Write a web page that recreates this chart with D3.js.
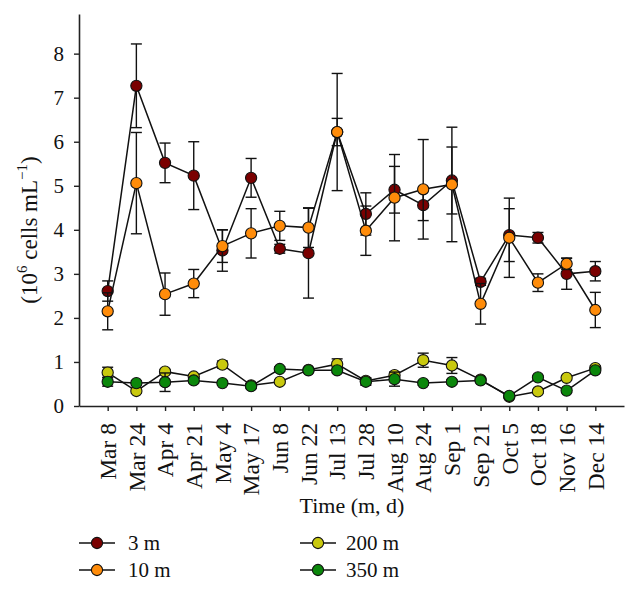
<!DOCTYPE html>
<html>
<head>
<meta charset="utf-8">
<script src="https://cdn.jsdelivr.net/npm/d3@7"></script>
<style>
  html, body { margin: 0; padding: 0; background: #fff; }
  svg { display: block; }
  svg text { font-family: "Liberation Serif", "Times New Roman", serif; }
</style>
</head>
<body>
<svg id="chart" width="638" height="589"></svg>
<script>
const dates = ["Mar 8","Mar 24","Apr 4","Apr 21","May 4","May 17","Jun 8","Jun 22","Jul 13","Jul 28","Aug 10","Aug 24","Sep 1","Sep 21","Oct 5","Oct 18","Nov 16","Dec 14"];
const yTicks = [0,1,2,3,4,5,6,7,8];

const m3    = [2.61,7.27,5.52,5.23,3.53,5.18,3.57,3.47,6.22,4.36,4.91,4.56,5.12,2.82,3.88,3.82,3.00,3.06];
const m3err = [0.23,0.95,0.45,0.77,0.47,0.44,0.10,1.02,1.33,0.48,0.53,0.35,0.76,0.08,0.60,0.12,0.35,0.22];
const m10    = [2.15,5.06,2.54,2.78,3.63,3.92,4.09,4.05,6.22,3.98,4.73,4.92,5.03,2.32,3.82,2.80,3.23,2.18];
const m10err = [0.42,1.15,0.48,0.32,0.37,0.56,0.33,0.45,0.31,0.56,0.98,1.13,1.30,0.46,0.90,0.20,0.13,0.40];
const m200    = [0.76,0.34,0.78,0.67,0.94,0.47,0.55,0.82,0.95,0.57,0.70,1.04,0.92,0.60,0.21,0.33,0.64,0.86];
const m200err = [0.12,0.05,0.05,0.04,0.08,0.04,0.04,0.04,0.12,0.07,0.06,0.16,0.18,0.04,0.03,0.04,0.05,0.05];
const m350    = [0.55,0.52,0.54,0.58,0.52,0.45,0.84,0.81,0.81,0.55,0.61,0.52,0.55,0.58,0.23,0.65,0.35,0.81];
const m350err = [0.10,0.05,0.21,0.05,0.04,0.05,0.05,0.04,0.05,0.08,0.16,0.05,0.05,0.04,0.04,0.04,0.04,0.05];

const seriesNames = ["3 m","10 m","200 m","350 m"];
const seriesColors = ["#7a0000","#ff8c0a","#c9c90e","#0b870b"];
const seriesVals = [m3, m10, m200, m350];
const seriesErrs = [m3err, m10err, m200err, m350err];

const FONT = "'Liberation Serif', 'Times New Roman', serif";
const svg = d3.select("#chart");
const x = d3.scalePoint().domain(dates).range([79, 624]).padding(1);
const y = d3.scaleLinear().domain([0, 8.9]).range([406, 14]);

// axes
const xAxis = svg.append("g").attr("transform", "translate(0,406)")
  .call(d3.axisBottom(x).tickSize(5).tickSizeOuter(0));
xAxis.attr("font-family", FONT);
xAxis.select(".domain").attr("stroke", "#222").attr("stroke-width", 1.6);
xAxis.selectAll(".tick line").attr("stroke", "#222").attr("stroke-width", 1.4);
xAxis.selectAll(".tick text")
  .attr("font-size", 23.5).attr("fill", "#111")
  .attr("text-anchor", "end")
  .attr("transform", "rotate(-90)")
  .attr("x", -17).attr("y", 0).attr("dy", "0.33em");

const yAxis = svg.append("g").attr("transform", "translate(79,0)")
  .call(d3.axisLeft(y).tickValues(yTicks).tickSize(5).tickSizeOuter(0).tickFormat(d3.format("d")));
yAxis.attr("font-family", FONT);
yAxis.select(".domain").attr("stroke", "#222").attr("stroke-width", 1.6);
yAxis.selectAll(".tick line").attr("stroke", "#222").attr("stroke-width", 1.4);
yAxis.selectAll(".tick text").attr("font-size", 21).attr("fill", "#111").attr("x", -15);

// y label
const yl = svg.append("text")
  .attr("transform", "translate(37,230) rotate(-90)")
  .attr("text-anchor", "middle").attr("font-size", 23).attr("fill", "#111");
yl.append("tspan").text("(10");
yl.append("tspan").attr("font-size", 15).attr("dy", -10).text("6");
yl.append("tspan").attr("dy", 10).text(" cells mL");
yl.append("tspan").attr("font-size", 15).attr("dy", -10).text("\u22121");
yl.append("tspan").attr("dy", 10).text(")");

// x label
svg.append("text").attr("x", 352).attr("y", 513).attr("text-anchor", "middle")
  .attr("font-size", 22).attr("fill", "#111").text("Time (m, d)");

// series
const line = d3.line().x((d, i) => x(dates[i])).y(d => y(d));
seriesVals.forEach((vals, s) => {
  const g = svg.append("g");
  g.append("path").attr("d", line(vals)).attr("fill", "none")
    .attr("stroke", "#111").attr("stroke-width", 1.5);
  const errs = seriesErrs[s];
  vals.forEach((v, i) => {
    const cx = x(dates[i]);
    const y1 = y(v + errs[i]), y2 = y(v - errs[i]);
    g.append("line").attr("x1", cx).attr("x2", cx).attr("y1", y1).attr("y2", y2)
      .attr("stroke", "#111").attr("stroke-width", 1.4);
    [y1, y2].forEach(yy => g.append("line").attr("x1", cx - 5.5).attr("x2", cx + 5.5)
      .attr("y1", yy).attr("y2", yy).attr("stroke", "#111").attr("stroke-width", 1.4));
  });
  g.selectAll("circle").data(vals).join("circle")
    .attr("cx", (d, i) => x(dates[i])).attr("cy", d => y(d)).attr("r", 5.6)
    .attr("fill", seriesColors[s]).attr("stroke", "#111").attr("stroke-width", 1.1);
});

// legend
const legendPos = [[79, 543], [79, 570], [300, 543], [300, 570]];
seriesNames.forEach((name, s) => {
  const [lx, ly] = legendPos[s];
  const g = svg.append("g");
  g.append("line").attr("x1", lx).attr("x2", lx + 36).attr("y1", ly).attr("y2", ly)
    .attr("stroke", "#111").attr("stroke-width", 1.5);
  g.append("circle").attr("cx", lx + 18).attr("cy", ly).attr("r", 5.6)
    .attr("fill", seriesColors[s]).attr("stroke", "#111").attr("stroke-width", 1.1);
  g.append("text").attr("x", lx + (s < 2 ? 49 : 46)).attr("y", ly + 6.5)
    .attr("font-size", 21).attr("fill", "#111").text(name);
});
</script>
</body>
</html>
